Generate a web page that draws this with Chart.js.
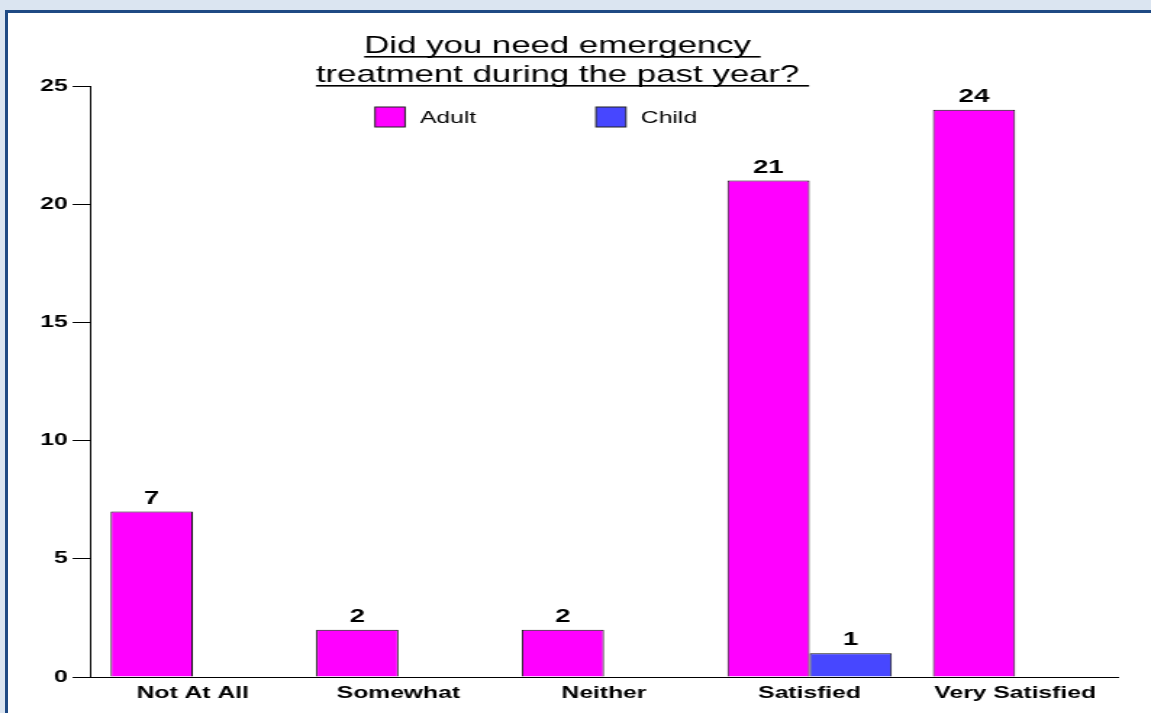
<!DOCTYPE html>
<html>
<head>
<meta charset="utf-8">
<script src="https://cdn.jsdelivr.net/npm/chart.js@4"></script>
<style>
  html, body { margin: 0; padding: 0; }
  body { width: 1151px; height: 713px; overflow: hidden; background: #dbe5f1; position: relative; }
  #frame { position: absolute; left: 5px; top: 10px; width: 1200px; height: 800px; border: 3px solid #1f4a84; background: #fff; }
  /* the chart is drawn narrow and stretched sideways to the full width */
  #wrap { position: absolute; left: 0; top: 0; width: 794px; height: 713px; transform: scaleX(1.4496); transform-origin: 0 0; }
</style>
</head>
<body>
<div id="frame"></div>
<div id="wrap"><canvas id="chart" width="794" height="713"></canvas></div>
<script>
const categories = ['Not At All', 'Somewhat', 'Neither', 'Satisfied', 'Very Satisfied'];
const adultCounts = [7, 2, 2, 21, 24];
const childCounts = [0, 0, 0, 1, 0];
const yTicks = [0, 5, 10, 15, 20, 25];
const titleLines = ['Did you need emergency ', 'treatment during the past year? '];
const seriesNames = ['Adult', 'Child'];
const seriesColors = ['#ff00ff', '#4747ff'];

const FONT = '"Liberation Sans", Arial, sans-serif';

// Title with underlines, and the legend row under it
const titlePlugin = {
  id: 'titleAndLegend',
  afterDraw(chart) {
    const c = chart.ctx;
    c.save();
    c.fillStyle = '#000';
    c.font = '24px ' + FONT;
    c.textAlign = 'center';
    c.textBaseline = 'alphabetic';
    const cx = 388;
    const baselines = [53, 82];
    titleLines.forEach((line, i) => {
      c.fillText(line, cx, baselines[i]);
      const w = c.measureText(line).width;
      c.fillRect(cx - w / 2, baselines[i] + 3, w, 1.6);
    });

    // legend
    const boxX = [258.7, 411.1];
    c.font = '17px ' + FONT;
    c.textAlign = 'left';
    c.textBaseline = 'middle';
    seriesNames.forEach((name, i) => {
      c.fillStyle = seriesColors[i];
      c.fillRect(boxX[i], 107, 20.7, 20);
      c.strokeStyle = '#222';
      c.lineWidth = 1;
      c.strokeRect(boxX[i], 107, 20.7, 20);
      c.fillStyle = '#000';
      c.fillText(name, boxX[i] + 31, 118);
    });
    c.restore();
  }
};

// Value labels above each non-zero bar
const valueLabels = {
  id: 'valueLabels',
  afterDatasetsDraw(chart) {
    const c = chart.ctx;
    c.save();
    c.font = 'bold 19px ' + FONT;
    c.fillStyle = '#000';
    c.textAlign = 'center';
    c.textBaseline = 'alphabetic';
    chart.data.datasets.forEach((ds, di) => {
      chart.getDatasetMeta(di).data.forEach((bar, i) => {
        const v = ds.data[i];
        if (!v) return;
        c.fillText(String(v), bar.x, bar.y - 8);
      });
    });
    c.restore();
  }
};

new Chart(document.getElementById('chart'), {
  type: 'bar',
  data: {
    labels: categories,
    datasets: [
      { label: seriesNames[0], data: adultCounts, backgroundColor: seriesColors[0], borderColor: '#111', borderWidth: 1 },
      { label: seriesNames[1], data: childCounts, backgroundColor: seriesColors[1], borderColor: '#111', borderWidth: 1 }
    ]
  },
  options: {
    responsive: false,
    animation: false,
    devicePixelRatio: 1,
    layout: { padding: { top: 86, right: 22.8, bottom: 0, left: 0 } },
    datasets: { bar: { categoryPercentage: 0.8, barPercentage: 1.0 } },
    plugins: {
      legend: { display: false },
      title: { display: false },
      tooltip: { enabled: false }
    },
    scales: {
      x: {
        grid: { drawOnChartArea: false, drawTicks: false, color: '#000' },
        border: { color: '#000', width: 1 },
        ticks: { color: '#000', padding: 6, font: { family: FONT, size: 17, weight: 'bold' } },
        afterFit(scale) { scale.height = 36; }
      },
      y: {
        min: 0,
        max: 25,
        grid: { drawOnChartArea: false, drawTicks: true, tickLength: 12, color: '#000' },
        border: { color: '#000', width: 1 },
        ticks: { color: '#000', padding: 3.5, font: { family: FONT, size: 17, weight: 'bold' } },
        afterBuildTicks(scale) { scale.ticks = yTicks.map(v => ({ value: v })); },
        afterFit(scale) { scale.width = 62.1; }
      }
    }
  },
  plugins: [titlePlugin, valueLabels]
});
</script>
</body>
</html>
